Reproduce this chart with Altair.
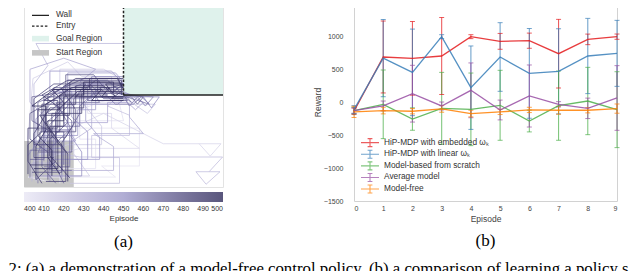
import altair as alt
import pandas as pd

# ---------------- panel (b): reward per episode ----------------
episodes = [0, 1, 2, 3, 4, 5, 6, 7, 8, 9]
series_names = ["HiP-MDP with embedded ωₖ", "HiP-MDP with linear ωₖ",
                "Model-based from scratch", "Average model", "Model-free"]
series_colors = ["#e41a1c", "#377eb8", "#4daf4a", "#984ea3", "#ff7f00"]
embedded_mean = [-140, 682, 662, 697, 990, 919, 929, 732, 949, 990]
embedded_err = [50, 545, 558, 583, 30, 120, 115, 520, 80, 40]
linear_mean = [-116, 665, 449, 990, 217, 682, 434, 465, 697, 737]
linear_err = [60, 585, 656, 30, 632, 520, 680, 645, 570, 500]
scratch_mean = [-130, -35, -258, -96, -111, -50, -288, -55, 15, -116]
scratch_err = [50, 520, 170, 545, 550, 530, 165, 525, 510, 575]
average_mean = [-130, -60, 126, -60, 177, -121, 91, -35, -96, 61]
average_err = [40, 75, 430, 60, 415, 150, 470, 40, 155, 490]
free_mean = [-150, -130, -140, -105, -175, -150, -120, -125, -125, -100]
free_err = [85, 50, 40, 50, 50, 40, 40, 60, 40, 70]
y_ticks = [-1500, -1000, -500, 0, 500, 1000, 1500]

# ---------------- panel (a): trajectories ----------------
region_names = ["Goal Region", "Start Region"]
region_colors = ["#dff2ec", "#c6c6c6"]
region_x1 = [5.0, 0.0]
region_x2 = [10.0, 2.5]
region_y1 = [5.0, 0.0]
region_y2 = [10.0, 2.5]
wall_names = ["Wall", "Entry"]
wall_x1 = [5.0, 5.0]
wall_x2 = [10.0, 5.0]
wall_y1 = [5.0, 5.0]
wall_y2 = [5.0, 10.0]
episode_ticks = [400, 410, 420, 430, 440, 450, 460, 470, 480, 490, 500]

traj_episode = [500, 499, 497, 496, 494, 493, 491, 490, 488, 487, 485, 484, 482, 481,
                479, 478, 476, 475, 473, 472, 470, 469, 467, 466, 464, 463, 461,
                458, 455, 452, 449, 446, 443, 440, 437, 434, 431, 428, 425, 422, 419,
                416, 413, 410, 407, 404, 401]
traj_x = [
    [0.6, 0.6, 1.1, 1.1, 0.4, 1.5, 3.9, 3.4, 5.0],
    [1.4, 1.4, 0.7, 0.7, 1.8, 1.8, 3.0, 3.0, 4.8, 5.0],
    [1.8, 1.2, 1.2, 2.0, 2.0, 4.6, 4.1, 5.0],
    [0.5, 1.7, 1.7, 1.1, 1.1, 2.4, 4.3, 3.9, 5.0],
    [0.3, 1.4, 1.4, 0.8, 2.3, 2.3, 4.5, 4.5, 5.0],
    [2.3, 1.3, 1.3, 2.0, 2.0, 1.4, 3.3, 3.3, 5.0],
    [2.2, 2.2, 1.6, 1.6, 2.7, 4.9, 4.4, 5.0],
    [0.2, 0.2, 0.9, 0.9, 2.6, 2.6, 4.0, 4.6, 5.0],
    [0.9, 0.2, 0.2, 1.7, 1.7, 1.0, 2.6, 4.7, 5.0],
    [1.1, 2.1, 2.1, 1.4, 1.4, 2.9, 2.9, 4.4, 5.0],
    [1.5, 0.5, 0.5, 1.3, 3.0, 3.0, 5.0],
    [0.8, 0.8, 1.8, 1.8, 0.9, 2.2, 3.7, 3.7, 5.0],
    [0.4, 1.9, 1.9, 2.5, 2.5, 3.6, 4.9, 4.9],
    [1.9, 1.9, 0.5, 0.5, 1.5, 3.1, 2.6, 5.0],
    [1.2, 1.2, 0.3, 0.3, 1.9, 4.2, 3.8, 5.0],
    [0.6, 1.6, 1.6, 2.6, 2.6, 1.9, 4.1, 5.0],
    [2.0, 2.0, 1.0, 1.0, 2.1, 2.1, 3.5, 4.1, 5.0],
    [1.3, 1.3, 2.2, 2.2, 1.2, 1.2, 3.0, 4.7, 4.9],
    [0.7, 2.4, 2.4, 1.5, 1.5, 3.2, 3.2, 5.2, 5.0],
    [0.3, 1.0, 1.0, 2.0, 2.0, 3.4, 4.0, 5.0],
    [1.6, 0.9, 0.9, 2.1, 2.8, 2.8, 5.4, 5.7, 6.0, 5.0],
    [2.0, 1.5, 1.5, 0.4, 0.4, 2.3, 4.5, 5.0],
    [0.3, 0.3, 1.3, 1.3, 2.2, 2.2, 4.2, 4.8, 5.0],
    [1.0, 2.3, 2.3, 1.6, 3.8, 3.2, 5.0],
    [2.4, 1.4, 1.4, 2.3, 0.7, 0.7, 2.9, 5.0],
    [0.7, 0.7, 1.5, 2.8, 2.8, 3.5, 5.0, 5.4, 5.0],
    [1.0, 1.0, 1.9, 1.9, 4.0, 4.6, 5.5, 5.9, 6.3, 5.0],
    [0.5, 1.6, 1.6, 2.4, 5.0, 5.3, 5.7, 6.1, 6.5, 5.0],
    [1.9, 1.9, 0.6, 0.6, 1.6, 3.4, 3.4, 5.0],
    [0.8, 2.9, 2.9, 2.2, 2.2, 4.7, 5.2, 6.8, 6.4, 6.0, 5.0],
    [1.3, 1.3, 3.2, 3.2, 2.4, 2.4, 1.3, 1.3, 4.4, 5.0],
    [0.2, 0.9, 2.7, 2.7, 3.6, 3.6, 5.0],
    [2.1, 3.8, 3.8, 3.1, 3.1, 4.0, 2.2, 2.2, 4.6, 5.0],
    [0.5, 0.5, 2.6, 2.0, 4.2, 4.2, 5.2, 5.6, 6.0, 5.0],
    [1.1, 1.1, 0.3, 0.3, 2.0, 3.6, 2.8, 5.0],
    [1.7, 4.5, 4.5, 3.5, 6.0, 5.3, 5.3, 5.0],
    [0.4, 0.4, 2.3, 2.3, 3.4, 3.4, 5.0],
    [1.5, 1.5, 0.5, 0.5, 1.2, 0.6, 5.0],
    [0.9, 0.9, 2.8, 9.98, 9.3, 8.64, 9.15, 9.85, 9.3],
    [2.3, 4.8, 4.8, 3.4, 3.4, 5.3, 5.3, 4.2, 5.0],
    [0.6, 0.6, 2.2, 3.9, 3.9, 3.0, 6.6, 6.2, 5.0],
    [1.0, 3.3, 2.5, 2.5, 1.2, 1.8, 1.8, 4.0, 5.0],
    [0.2, 0.45, 2.2, 2.9, 4.4, 4.4, 5.0],
    [0.8, 2.0, 2.0, 4.0, 7.0, 9.9, 9.36, 8.8],
    [0.5, 2.8, 5.8, 4.4, 4.4, 3.2, 3.2, 5.6, 5.0],
    [1.8, 1.8, 3.6, 3.6, 2.8, 2.8, 5.0, 4.7],
    [1.2, 0.2, 4.6, 3.9, 5.8, 5.8, 2.8, 2.8, 4.7, 5.0],
]
traj_y = [
    [0.4, 2.2, 3.1, 4.4, 4.4, 5.3, 5.3, 4.7, 4.7],
    [0.6, 2.0, 2.8, 4.2, 4.2, 5.0, 5.0, 5.7, 5.7, 5.3],
    [0.7, 1.6, 3.6, 3.6, 4.9, 4.9, 5.6, 5.6],
    [1.0, 1.0, 2.5, 3.5, 4.5, 5.4, 5.4, 4.9, 4.9],
    [1.2, 1.2, 2.9, 3.9, 3.9, 5.7, 5.7, 5.1, 5.1],
    [0.5, 1.7, 3.3, 3.3, 4.6, 5.3, 5.3, 5.9, 5.9],
    [0.3, 1.8, 2.7, 4.1, 5.2, 5.2, 4.8, 4.8],
    [0.7, 2.3, 3.0, 4.5, 4.5, 5.5, 5.5, 4.9, 4.9],
    [0.2, 1.4, 3.2, 3.2, 4.7, 4.7, 5.9, 5.9, 5.4],
    [0.3, 0.3, 1.9, 2.8, 4.0, 4.0, 5.1, 5.1, 5.6],
    [1.6, 1.6, 2.9, 4.3, 4.3, 5.5, 5.5],
    [2.1, 3.0, 3.0, 4.3, 5.0, 5.8, 5.8, 5.2, 5.2],
    [0.8, 0.8, 2.4, 3.4, 4.8, 5.8, 5.8, 5.0],
    [0.9, 2.3, 2.3, 4.8, 5.6, 5.6, 4.9, 4.9],
    [0.4, 1.9, 2.6, 4.0, 5.0, 5.0, 5.4, 5.4],
    [0.4, 1.4, 3.0, 3.0, 4.2, 5.3, 5.3, 5.6],
    [1.2, 3.0, 3.0, 4.9, 4.9, 6.1, 6.1, 5.3, 5.3],
    [0.9, 2.6, 3.5, 4.0, 4.0, 5.0, 5.9, 5.9, 5.4],
    [1.9, 1.9, 3.6, 4.5, 5.4, 5.4, 4.7, 4.7, 5.0],
    [1.5, 1.5, 3.9, 4.7, 5.5, 5.5, 4.8, 4.8],
    [0.2, 1.1, 2.7, 2.7, 4.0, 4.9, 4.9, 4.5, 4.9, 5.0],
    [0.2, 1.3, 2.9, 3.6, 4.9, 5.2, 5.2, 5.0],
    [0.5, 2.0, 2.0, 3.4, 4.4, 5.8, 5.8, 5.2, 5.2],
    [1.1, 1.1, 3.3, 4.6, 4.6, 5.6, 5.6],
    [0.9, 0.9, 2.2, 3.1, 3.1, 4.6, 5.6, 5.6],
    [0.2, 1.9, 3.3, 3.3, 4.4, 5.1, 5.1, 4.6, 4.95],
    [1.4, 3.4, 4.2, 5.1, 5.1, 4.5, 4.5, 4.9, 4.5, 4.95],
    [2.3, 2.3, 4.0, 4.9, 4.9, 4.4, 4.9, 4.4, 4.9, 5.0],
    [0.5, 2.1, 2.1, 3.7, 4.8, 4.8, 6.0, 6.0],
    [0.6, 0.6, 1.9, 3.0, 4.5, 4.5, 4.9, 4.9, 4.3, 4.9, 5.1],
    [0.3, 1.5, 1.5, 3.0, 3.8, 5.2, 5.2, 6.3, 6.3, 5.6],
    [1.7, 2.8, 2.8, 4.2, 4.2, 5.4, 5.4],
    [1.5, 1.5, 2.7, 3.6, 4.6, 5.6, 5.6, 6.2, 6.2, 5.7],
    [0.9, 2.5, 2.5, 3.5, 3.5, 4.6, 4.6, 4.2, 4.6, 5.2],
    [2.0, 3.8, 4.6, 6.4, 7.0, 6.4, 5.7, 5.7],
    [0.9, 0.9, 2.2, 2.9, 2.9, 3.8, 4.4, 5.0],
    [0.3, 1.3, 1.3, 2.4, 3.2, 4.9, 4.9],
    [1.0, 2.6, 3.6, 5.6, 6.6, 7.8, 7.8],
    [1.2, 2.0, 1.63, 1.63, 0.83, 0.83, 0.15, 0.83, 0.83],
    [0.2, 0.2, 1.6, 1.6, 2.8, 2.8, 3.9, 4.4, 5.2],
    [0.3, 1.7, 2.3, 2.3, 3.3, 4.5, 4.5, 4.0, 4.9],
    [0.6, 0.6, 1.8, 3.1, 3.1, 4.1, 6.4, 6.4, 5.8],
    [2.6, 5.9, 6.8, 6.0, 6.0, 5.0, 5.0],
    [1.8, 1.8, 3.0, 4.0, 2.35, 2.35, 1.68, 2.35],
    [1.4, 2.1, 2.1, 3.2, 4.0, 4.0, 4.6, 4.6, 5.1],
    [0.2, 1.0, 1.0, 2.6, 2.6, 3.6, 3.6, 4.95],
    [0.3, 0.54, 0.54, 1.14, 1.14, 3.2, 3.2, 4.2, 4.95, 5.0],
]

caption_text = ("2: (a) a demonstration of a model-free control policy, "
                "(b) a comparison of learning a policy s")

SANS = "Liberation Sans"
SERIF = "Liberation Serif"

# ---------------- build tables ----------------
means = [embedded_mean, linear_mean, scratch_mean, average_mean, free_mean]
errs = [embedded_err, linear_err, scratch_err, average_err, free_err]
rows = []
for name, m, e in zip(series_names, means, errs):
    for ep, mv, ev in zip(episodes, m, e):
        rows.append({"series": name, "ep": ep, "mean": mv, "lo": mv - ev, "hi": mv + ev})
b_df = pd.DataFrame(rows)

traj_rows = []
for k, (epi, xs, ys) in enumerate(zip(traj_episode, traj_x, traj_y)):
    for i, (xv, yv) in enumerate(zip(xs, ys)):
        traj_rows.append({"traj": k, "idx": i, "episode": epi, "x": xv, "y": yv})
traj_df = pd.DataFrame(traj_rows).iloc[::-1]

reg_df = pd.DataFrame({"name": region_names, "x1": region_x1, "x2": region_x2,
                       "y1": region_y1, "y2": region_y2})
wall_df = pd.DataFrame({"name": wall_names, "x1": wall_x1, "x2": wall_x2,
                        "y1": wall_y1, "y2": wall_y2})

# ---------------- panel (a) ----------------
sx = alt.Scale(domain=[0, 10], nice=False, zero=False)
sy = alt.Scale(domain=[0, 10], nice=False, zero=False)

leg_common = dict(title=None, orient="none", symbolSize=16, labelFont=SANS, labelFontSize=8.3,
                  labelColor="#333", padding=0, labelLimit=0)

regions = alt.Chart(reg_df).mark_rect().encode(
    x=alt.X("x1:Q", scale=sx, axis=None), x2="x2:Q",
    y=alt.Y("y1:Q", scale=sy, axis=None), y2="y2:Q",
    fill=alt.Fill("name:N", scale=alt.Scale(domain=region_names, range=region_colors),
                  legend=alt.Legend(legendX=12.35, legendY=31.5, rowPadding=5.2,
                                    symbolType="M-4.25,-1.4H4.25V1.4H-4.25Z",
                                    symbolStrokeWidth=0, symbolOpacity=1, labelOffset=11.35,
                                    **leg_common)),
)

trajs = alt.Chart(traj_df).mark_line(strokeWidth=1, opacity=0.8).encode(
    x=alt.X("x:Q", scale=sx, axis=None),
    y=alt.Y("y:Q", scale=sy, axis=None),
    detail="traj:N",
    order="idx:Q",
    stroke=alt.Stroke("episode:Q",
                      scale=alt.Scale(domain=[400, 500], range=["#e9e7f4", "#9d99c9", "#302c5c"]),
                      legend=alt.Legend(title="Episode", orient="none", legendX=0, legendY=189,
                                        direction="horizontal", gradientLength=199,
                                        gradientThickness=10, gradientStrokeWidth=0,
                                        titleOrient="bottom", titleAnchor="middle",
                                        values=episode_ticks, labelAlign="center",
                                        labelOverlap=False, labelFont=SANS, labelFontSize=7,
                                        labelColor="#333", labelOffset=2.5, titleFont=SANS,
                                        titleFontSize=8, titleFontWeight="normal",
                                        titleColor="#333", titlePadding=3, padding=0)),
)

walls = alt.Chart(wall_df).mark_rule(color="#222", strokeWidth=1.5).encode(
    x=alt.X("x1:Q", scale=sx, axis=None), x2="x2:Q",
    y=alt.Y("y1:Q", scale=sy, axis=None), y2="y2:Q",
    strokeDash=alt.StrokeDash("name:N",
                              scale=alt.Scale(domain=wall_names, range=[[1, 0], [2.5, 1.8]]),
                              legend=alt.Legend(legendX=12.35, legendY=8.3, rowPadding=1.7,
                                                symbolType="M-4.25,0H4.25",
                                                symbolStrokeColor="#222", symbolStrokeWidth=1.2,
                                                labelOffset=11.35, **leg_common)),
)

panel_a = alt.layer(regions, trajs, walls).properties(
    width=199, height=184,
    view=alt.ViewBackground(stroke="#e3e3e3"),
    title=alt.TitleParams("(a)", orient="bottom", offset=47, font=SERIF, fontSize=17,
                          fontWeight="normal", color="black", anchor="middle"),
)

# ---------------- panel (b) ----------------
xb = alt.X("ep:Q", scale=alt.Scale(domain=[0, 9], nice=False),
           axis=alt.Axis(values=episodes, title="Episode", ticks=False, tickSize=0, domain=False,
                         grid=False, labelOverlap=False, labelFont=SANS, labelFontSize=7,
                         labelColor="#444", labelPadding=3, titleFont=SANS, titleFontSize=8.5,
                         titleFontWeight="normal", titleColor="#444", titlePadding=3))
yscale = alt.Scale(domain=[-1500, 1500], nice=False)
yaxis = alt.Axis(values=y_ticks, format="d", title="Reward", ticks=False, tickSize=0,
                 domain=False, grid=False, labelOverlap=False, labelFont=SANS,
                 labelFontSize=7, labelColor="#444", labelPadding=11,
                 titleFont=SANS, titleFontSize=8.5, titleFontWeight="normal",
                 titleColor="#444", titlePadding=1)
color_b = alt.Color("series:N", scale=alt.Scale(domain=series_names, range=series_colors),
                    legend=alt.Legend(title=None, orient="none", legendX=11.85, legendY=135.5,
                                      symbolType="M-4.5,0H4.5M0,-2V2M-1.2,-2H1.2M-1.2,2H1.2",
                                      symbolSize=16, symbolStrokeWidth=1.1,
                                      symbolFillColor="transparent",
                                      labelFont=SANS, labelFontSize=8.3, labelColor="#333",
                                      labelOffset=9.85, rowPadding=-2.4, padding=0, labelLimit=0))

bars = alt.Chart(b_df).mark_rule(strokeWidth=1.1, opacity=0.7).encode(
    x=xb,
    y=alt.Y("lo:Q", scale=yscale, axis=yaxis, title="Reward"),
    y2="hi:Q",
    color=color_b,
)
caps_hi = alt.Chart(b_df).mark_tick(orient="horizontal", size=5, thickness=1, opacity=0.7).encode(
    x=xb, y=alt.Y("hi:Q", scale=yscale, axis=yaxis, title="Reward"), color=color_b)
caps_lo = alt.Chart(b_df).mark_tick(orient="horizontal", size=5, thickness=1, opacity=0.7).encode(
    x=xb, y=alt.Y("lo:Q", scale=yscale, axis=yaxis, title="Reward"), color=color_b)
lines = alt.Chart(b_df).mark_line(strokeWidth=1.3, opacity=0.85).encode(
    x=xb,
    y=alt.Y("mean:Q", scale=yscale, axis=yaxis, title="Reward"),
    color=color_b,
)

panel_b = alt.layer(bars, caps_hi, caps_lo, lines).properties(
    width=263, height=198,
    view=alt.ViewBackground(stroke="#d2d2d2"),
    title=alt.TitleParams("(b)", orient="bottom", offset=10, font=SERIF, fontSize=17,
                          fontWeight="normal", color="black", anchor="middle"),
)

chart = alt.hconcat(panel_a, panel_b, spacing=131, bounds="flush").properties(
    padding={"left": 0, "top": -10, "right": 0, "bottom": -2},
    title=alt.TitleParams(caption_text, orient="bottom", anchor="start", dx=-15, offset=10,
                          font=SERIF, fontSize=16.8, fontWeight="normal", color="black"),
).resolve_scale(color="independent")

chart.save("out.html", embed_options={"renderer": "svg", "actions": False})
